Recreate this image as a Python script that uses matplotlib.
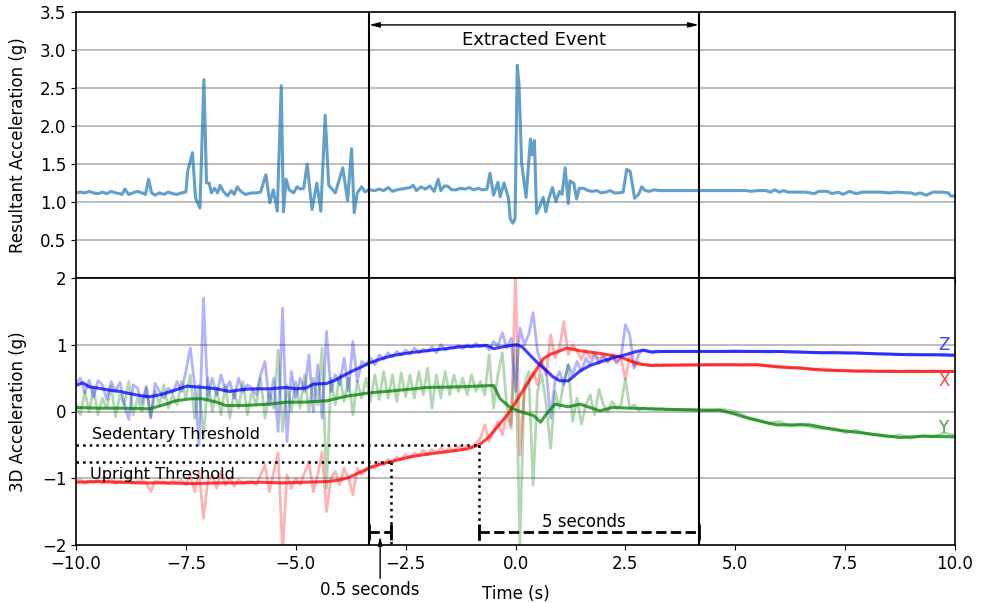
import numpy as np
import matplotlib
matplotlib.use("Agg")
import matplotlib.pyplot as plt

# ---------------- data ----------------
# Resultant acceleration (g): sample times (s) and magnitudes
res_t = [-10.0, -9.9, -9.8, -9.7, -9.6, -9.5, -9.4, -9.3, -9.2, -9.1, -9.0, -8.95, -8.89, -8.8, -8.7,
         -8.6, -8.5, -8.42, -8.35, -8.28, -8.2, -8.1, -8.0, -7.9, -7.8, -7.7, -7.6, -7.5, -7.46, -7.35,
         -7.28, -7.18, -7.09, -7.03, -6.97, -6.92, -6.85, -6.78, -6.72, -6.65, -6.55, -6.47, -6.4, -6.33,
         -6.25, -6.15, -6.0, -5.9, -5.8, -5.68, -5.59, -5.51, -5.42, -5.33, -5.28, -5.22, -5.15, -5.05,
         -4.97, -4.9, -4.82, -4.74, -4.63, -4.52, -4.43, -4.33, -4.25, -4.1, -3.93, -3.82, -3.73, -3.67,
         -3.6, -3.5, -3.42, -3.33, -3.25, -3.2, -3.1, -3.0, -2.9, -2.8, -2.7, -2.6, -2.5, -2.4, -2.33,
         -2.25, -2.15, -2.05, -1.95, -1.85, -1.76, -1.7, -1.62, -1.55, -1.45, -1.35, -1.25, -1.15, -1.05,
         -0.95, -0.85, -0.75, -0.65, -0.58, -0.5, -0.4, -0.35, -0.26, -0.16, -0.12, -0.06, -0.01, 0.04,
         0.08, 0.14, 0.24, 0.34, 0.38, 0.43, 0.48, 0.56, 0.63, 0.69, 0.76, 0.84, 0.92, 1.0, 1.06, 1.13,
         1.2, 1.24, 1.33, 1.39, 1.45, 1.55, 1.65, 1.75, 1.85, 1.95, 2.05, 2.15, 2.25, 2.35, 2.45, 2.53,
         2.61, 2.71, 2.8, 2.87, 2.95, 3.05, 3.15, 3.3, 5.26, 5.35, 5.5, 5.7, 5.8, 5.9, 6.0, 6.1, 6.2,
         6.5, 6.6, 6.8, 6.9, 7.1, 7.2, 7.35, 7.45, 7.6, 7.75, 7.9, 8.1, 8.3, 8.5, 8.7, 8.9, 9.0, 9.1,
         9.2, 9.35, 9.5, 9.7, 9.85, 9.9, 10.0]
res_v = [1.12, 1.13, 1.12, 1.14, 1.12, 1.11, 1.13, 1.11, 1.14, 1.12, 1.11, 1.10, 1.17, 1.10, 1.12,
         1.14, 1.12, 1.10, 1.30, 1.12, 1.09, 1.12, 1.10, 1.13, 1.11, 1.10, 1.12, 1.13, 1.40, 1.65,
         1.05, 0.92, 2.61, 1.25, 1.25, 1.12, 1.18, 1.12, 1.22, 1.14, 1.08, 1.15, 1.10, 1.20,
         1.14, 1.10, 1.12, 1.12, 1.13, 1.36, 0.99, 1.16, 0.88, 2.53, 0.87, 1.30, 1.16, 1.12,
         1.20, 1.17, 1.18, 1.50, 0.90, 1.25, 0.88, 2.14, 1.22, 1.12, 1.45, 1.02, 1.70, 0.86,
         1.12, 1.20, 1.13, 1.17, 1.15, 1.15, 1.17, 1.15, 1.19, 1.14, 1.16, 1.17, 1.18, 1.19, 1.22,
         1.15, 1.20, 1.17, 1.21, 1.14, 1.30, 1.15, 1.21, 1.21, 1.16, 1.16, 1.18, 1.17, 1.19,
         1.16, 1.18, 1.16, 1.17, 1.38, 1.09, 1.26, 1.07, 1.25, 1.05, 0.78, 0.72, 0.78, 2.80,
         2.54, 1.51, 1.06, 1.83, 1.62, 1.81, 0.85, 0.95, 1.06, 0.87, 1.05, 1.19, 1.00, 1.14, 1.10, 1.45,
         0.98, 1.28, 1.24, 1.04, 1.18, 1.18, 1.15, 1.14, 1.15, 1.12, 1.13, 1.15, 1.12, 1.12, 1.13, 1.43,
         1.40, 1.05, 1.10, 1.20, 1.15, 1.14, 1.16, 1.15, 1.15, 1.14, 1.15, 1.15, 1.13, 1.16, 1.13, 1.15, 1.13,
         1.13, 1.13, 1.11, 1.14, 1.14, 1.11, 1.13, 1.10, 1.14, 1.11, 1.13, 1.13, 1.13, 1.12, 1.13, 1.12, 1.12, 1.10,
         1.12, 1.09, 1.13, 1.13, 1.12, 1.08, 1.08]

# Raw 3D acceleration (g): 0.1 s samples from -10.0 to 3.4 s, then 0.25 s samples from 3.5 to 10 s
raw_x_fine = [
    -1.05, -1.02, -1.08, -1.04, -1.06, -1.03, -1.07, -1.05, -1.02, -1.08,
    -1.04, -1.06, -1.03, -1.07, -1.05, -1.03, -1.07, -1.20, -1.04, -1.06,
    -1.05, -1.08, -1.04, -1.06, -1.03, -1.10, -0.95, -1.20, -0.90, -1.60,
    -1.05, -0.95, -1.15, -0.90, -1.10, -1.00, -1.12, -1.02, -1.08, -1.05,
    -1.04, -1.10, -0.95, -0.80, -1.20, -0.90, -0.62, -2.10, -0.95, -1.15,
    -1.00, -1.10, -0.92, -0.75, -1.20, -0.95, -0.60, -1.50, -1.00, -0.90,
    -1.10, -0.85, -1.00, -1.25, -0.85, -0.95, -0.88, -0.82, -0.85, -0.76,
    -0.80, -0.72, -0.78, -0.68, -0.72, -0.64, -0.70, -0.62, -0.66, -0.58,
    -0.65, -0.57, -0.62, -0.55, -0.60, -0.54, -0.59, -0.52, -0.57, -0.50,
    -0.55, -0.48, -0.40, -0.20, -0.45, -0.30, -0.15, -0.35, -0.05, -0.25,
    2.05, -0.65, 0.30, 0.45, 0.60, 0.40, 0.75, 0.55, 1.15, 0.80,
    0.95, 1.35, 0.85, 1.00, 0.90, 0.78, 0.92, 0.80, 0.88, 0.78,
    0.85, 0.74, 0.83, 0.72, 0.80, 0.48, 0.85, 0.68, 0.74, 0.70,
    0.71, 0.69, 0.70, 0.69, 0.70]
raw_y_fine = [
    0.10, -0.05, 0.30, 0.00, 0.35, -0.05, 0.20, 0.05, 0.38, -0.08,
    0.25, 0.10, 0.45, -0.05, 0.20, 0.00, 0.35, -0.08, 0.30, 0.10,
    0.40, 0.05, 0.25, 0.10, 0.45, 0.20, 0.55, -0.10, 0.40, -0.40,
    0.50, 0.00, 0.35, -0.05, 0.40, -0.10, 0.30, 0.05, 0.45, -0.05,
    0.30, 0.10, 0.50, -0.10, 0.30, 0.05, 0.92, -0.30, 0.40, 0.00,
    0.45, 0.05, 0.55, 0.00, 0.50, 0.10, 0.95, -1.15, 0.50, 0.10,
    0.55, 0.15, 0.50, -0.05, 0.45, 0.20, 0.50, 0.15, 0.55, 0.18,
    0.60, 0.20, 0.55, 0.15, 0.58, 0.22, 0.55, 0.20, 0.60, 0.25,
    0.65, 0.05, 0.55, 0.20, 0.60, 0.25, 0.55, 0.30, 0.50, 0.25,
    0.55, 0.30, 0.45, 0.25, 0.85, 0.05, 0.55, 0.88, 0.10, -0.20,
    1.00, -1.98, 0.40, 0.60, -1.10, 0.30, 0.55, 0.10, -0.55, 0.30,
    0.05, 0.45, 0.70, -0.15, 0.20, -0.19, 0.10, 0.25, -0.05, 0.33,
    0.10, -0.01, 0.15, 0.05, 0.10, 0.49, 0.05, 0.10, 0.02, 0.06,
    0.04, 0.05, 0.03, 0.04, 0.03]
raw_z_fine = [
    0.42, 0.50, 0.28, 0.47, 0.22, 0.46, 0.40, 0.18, 0.45, 0.30,
    0.44, 0.10, -0.12, 0.40, 0.35, 0.12, 0.38, -0.10, 0.42, 0.30,
    0.20, 0.35, 0.28, 0.45, 0.30, 0.60, 0.95, 0.40, -0.50, 1.70,
    0.20, 0.50, 0.25, 0.55, 0.30, 0.45, 0.20, 0.50, 0.30, 0.40,
    0.35, 0.25, 0.55, 0.75, 0.10, 0.50, -0.30, 1.55, -0.45, 0.60,
    0.20, 0.50, 0.30, 0.85, 0.00, 0.70, -0.10, 1.20, 0.30, 0.55,
    0.40, 0.80, 0.30, 1.05, 0.45, 0.75, 0.70, 0.80, 0.70, 0.85,
    0.78, 0.88, 0.82, 0.90, 0.85, 0.92, 0.86, 0.95, 0.88, 0.93,
    0.90, 0.97, 0.88, 1.00, 0.92, 0.96, 0.95, 0.99, 0.94, 1.00,
    0.96, 1.02, 0.97, 1.00, 0.92, 1.05, 0.98, 1.18, 0.95, 1.10,
    0.30, 1.25, 1.00, 1.15, 1.48, 0.90, 0.70, 0.60, -0.10, 0.45,
    0.60, 0.40, 0.70, 0.55, 0.75, 0.60, 0.80, 0.70, 0.85, 0.72,
    0.82, 0.75, 0.85, 0.75, 0.80, 1.30, 1.15, 0.65, 0.85, 0.92,
    0.90, 0.89, 0.91, 0.90, 0.90]
raw_x_coarse = [0.70, 0.70, 0.70, 0.70, 0.70, 0.70, 0.70, 0.69, 0.70, 0.68, 0.66, 0.65, 0.66, 0.63,
                0.64, 0.62, 0.62, 0.60, 0.61, 0.60, 0.61, 0.60, 0.61, 0.60, 0.61, 0.60, 0.60]
raw_y_coarse = [0.03, 0.03, 0.03, 0.02, 0.02, 0.03, 0.00, -0.08, -0.12, -0.18, -0.15, -0.22, -0.18, -0.24,
                -0.26, -0.25, -0.32, -0.28, -0.33, -0.36, -0.38, -0.35, -0.40, -0.36, -0.38, -0.32, -0.36]
raw_z_coarse = [0.90, 0.90, 0.90, 0.90, 0.90, 0.90, 0.91, 0.90, 0.90, 0.89, 0.90, 0.89, 0.89, 0.88,
                0.88, 0.89, 0.87, 0.88, 0.87, 0.86, 0.86, 0.85, 0.86, 0.85, 0.85, 0.86, 0.85]

# Smoothed 3D acceleration (g)
sm_x_t = [-10.0, -9.5, -9.0, -8.5, -8.0, -7.33, -6.8, -6.3, -5.8, -5.3, -4.8, -4.3, -4.05, -3.84,
          -3.53, -3.31, -3.08, -2.83, -2.4, -2.02, -1.41, -1.1, -0.83, -0.65, -0.5, -0.35, -0.2,
          -0.12, 0.1, 0.25, 0.41, 0.63, 0.8, 0.94, 1.17, 1.47, 1.92, 2.38, 2.6, 2.83, 3.06, 4.5,
          5.5, 6.0, 6.47, 7.0, 7.5, 8.5, 9.0, 10.0]
sm_x = [-1.06, -1.05, -1.06, -1.07, -1.07, -1.08, -1.07, -1.07, -1.06, -1.07, -1.06, -1.05, -1.03, -1.00,
        -0.91, -0.84, -0.79, -0.75, -0.68, -0.64, -0.59, -0.56, -0.50, -0.41, -0.30, -0.18, -0.06,
        0.01, 0.24, 0.40, 0.56, 0.79, 0.86, 0.89, 0.95, 0.91, 0.87, 0.82, 0.76, 0.71, 0.69, 0.70,
        0.70, 0.67, 0.65, 0.62, 0.61, 0.60, 0.60, 0.60]
sm_y_t = [-10.0, -9.5, -9.0, -8.33, -8.0, -7.73, -7.4, -7.12, -6.8, -6.59, -6.2, -5.6, -5.2, -4.8,
          -4.3, -3.84, -3.31, -2.78, -2.02, -1.26, -0.5, -0.35, -0.12, 0.1, 0.41, 0.57, 0.7, 0.9,
          1.2, 1.47, 1.92, 2.2, 2.6, 3.06, 4.2, 4.65, 5.0, 5.34, 5.94, 6.7, 7.23, 7.99, 8.75, 9.3, 10.0]
sm_y = [0.06, 0.05, 0.05, 0.04, 0.10, 0.16, 0.19, 0.19, 0.14, 0.09, 0.09, 0.11, 0.14, 0.14,
        0.16, 0.23, 0.28, 0.31, 0.36, 0.37, 0.39, 0.19, 0.06, 0.00, -0.06, -0.16, -0.04, 0.11,
        0.07, 0.11, 0.01, 0.06, 0.05, 0.04, 0.02, 0.02, -0.04, -0.11, -0.20, -0.20, -0.27, -0.33, -0.39, -0.37, -0.38]
sm_z_t = [-10.0, -9.85, -9.7, -9.5, -9.24, -9.0, -8.79, -8.55, -8.33, -8.1, -7.88, -7.7, -7.48, -7.3,
          -7.1, -6.8, -6.51, -6.2, -5.9, -5.6, -5.22, -5.0, -4.77, -4.6, -4.3, -4.1, -3.91, -3.7,
          -3.53, -3.31, -3.05, -2.78, -2.4, -2.02, -1.6, -1.26, -0.9, -0.65, -0.5, -0.35, -0.2,
          0.03, 0.15, 0.25, 0.41, 0.55, 0.71, 0.85, 1.01, 1.2, 1.35, 1.47, 1.7, 1.92, 2.2, 2.45,
          2.7, 2.91, 3.1, 3.37, 4.5, 6.0, 6.5, 7.0, 7.5, 8.0, 8.5, 9.0, 9.5, 10.0]
sm_z = [0.39, 0.43, 0.37, 0.35, 0.32, 0.30, 0.27, 0.24, 0.22, 0.25, 0.29, 0.33, 0.38, 0.37,
        0.36, 0.34, 0.30, 0.33, 0.34, 0.34, 0.36, 0.34, 0.35, 0.41, 0.42, 0.47, 0.54, 0.61,
        0.66, 0.73, 0.79, 0.84, 0.88, 0.91, 0.94, 0.97, 0.98, 0.99, 0.94, 0.96, 0.98,
        1.00, 0.97, 0.90, 0.79, 0.70, 0.61, 0.52, 0.46, 0.46, 0.54, 0.61, 0.69, 0.74, 0.80, 0.84,
        0.89, 0.92, 0.89, 0.90, 0.90, 0.90, 0.89, 0.88, 0.88, 0.87, 0.86, 0.85, 0.85, 0.84]

# Event markers (s) and thresholds (g)
event_start, event_end = -3.33, 4.17
upright_cross, sedentary_cross = -2.83, -0.83
upright_thr, sedentary_thr = -0.75, -0.5

# ---------------- assemble sample times ----------------
t_fine = np.round(-10.0 + 0.1 * np.arange(len(raw_x_fine)), 2)
t_coarse = np.round(3.5 + 0.25 * np.arange(len(raw_x_coarse)), 2)
raw_t = np.concatenate([t_fine, t_coarse])
raw_x = np.array(raw_x_fine + raw_x_coarse)
raw_y = np.array(raw_y_fine + raw_y_coarse)
raw_z = np.array(raw_z_fine + raw_z_coarse)

# ---------------- figure ----------------
fig = plt.figure(figsize=(9.81, 6.03), dpi=100)
left, right = 76 / 981, 955 / 981
y_top, y_mid, y_bot = 1 - 12 / 603, 1 - 278 / 603, 1 - 545 / 603
ax1 = fig.add_axes([left, y_mid, right - left, y_top - y_mid])
ax2 = fig.add_axes([left, y_bot, right - left, y_mid - y_bot], sharex=ax1)

fs = 12
grid_kw = dict(color="#b0b0b0", lw=1.2)

# Top panel: resultant acceleration
ax1.plot(res_t, res_v, color="#1f77b4", alpha=0.7, lw=2.2)
ax1.set_ylim(0, 3.5)
ax1.set_yticks([0.5, 1.0, 1.5, 2.0, 2.5, 3.0, 3.5])
for yv in [0.5, 1.0, 1.5, 2.0, 2.5, 3.0]:
    ax1.axhline(yv, zorder=0, **grid_kw)
ax1.set_ylabel("Resultant Acceleration (g)", fontsize=fs)
ax1.yaxis.set_label_coords(-0.056, 0.5)
ax1.tick_params(labelbottom=False, labelsize=fs)
ax1.axvline(event_start, color="black", lw=1.5)
ax1.axvline(event_end, color="black", lw=1.5)
ax1.annotate("", xy=(event_start, 3.33), xytext=(event_end, 3.33),
             arrowprops=dict(arrowstyle="<|-|>,head_length=0.6,head_width=0.15",
                             color="black", lw=1.0, shrinkA=0, shrinkB=0))
ax1.text((event_start + event_end) / 2, 3.13, "Extracted Event", ha="center", va="center", fontsize=13)

# Bottom panel: 3D acceleration
ax2.plot(raw_t, raw_x, color="red", alpha=0.3, lw=2)
ax2.plot(raw_t, raw_y, color="green", alpha=0.3, lw=2)
ax2.plot(raw_t, raw_z, color="blue", alpha=0.3, lw=2)
ax2.plot(sm_x_t, sm_x, color="red", alpha=0.75, lw=2.2)
ax2.plot(sm_y_t, sm_y, color="green", alpha=0.75, lw=2.2)
ax2.plot(sm_z_t, sm_z, color="blue", alpha=0.75, lw=2.2)
for yv in [-1, 0, 1]:
    ax2.axhline(yv, zorder=0, **grid_kw)
ax2.set_ylim(-2, 2)
ax2.set_yticks([-2, -1, 0, 1, 2])
ax2.set_xlim(-10, 10)
ax2.set_xticks([-10, -7.5, -5, -2.5, 0, 2.5, 5, 7.5, 10])
ax2.set_xticklabels(["\u221210.0", "\u22127.5", "\u22125.0", "\u22122.5", "0.0", "2.5", "5.0", "7.5", "10.0"])
ax2.tick_params(labelsize=fs)
ax2.set_ylabel("3D Acceleration (g)", fontsize=fs)
ax2.yaxis.set_label_coords(-0.056, 0.5)
ax2.set_xlabel("Time (s)", fontsize=fs, labelpad=9)
ax2.axvline(event_start, color="black", lw=1.5)
ax2.axvline(event_end, color="black", lw=1.5)

ax2.text(9.62, 0.99, "Z", color=(0.25, 0.25, 1.0), fontsize=fs, ha="left", va="center")
ax2.text(9.62, 0.45, "X", color=(1.0, 0.25, 0.25), fontsize=fs, ha="left", va="center")
ax2.text(9.62, -0.25, "Y", color=(0.25, 0.63, 0.25), fontsize=fs, ha="left", va="center")

# Threshold guides
ax2.plot([-10, sedentary_cross], [sedentary_thr, sedentary_thr], ls=":", color="black", lw=1.8)
ax2.plot([sedentary_cross, sedentary_cross], [sedentary_thr, -2], ls=":", color="black", lw=1.8)
ax2.plot([-10, upright_cross], [upright_thr, upright_thr], ls=":", color="black", lw=1.8)
ax2.plot([upright_cross, upright_cross], [upright_thr, -2], ls=":", color="black", lw=1.8)
ax2.text(-9.64, -0.34, "Sedentary Threshold", fontsize=11.6, ha="left", va="center")
ax2.text(-9.68, -0.94, "Upright Threshold", fontsize=11.6, ha="left", va="center")

# Duration brackets
yb = -1.81
for a, b in [(event_start, upright_cross), (sedentary_cross, event_end)]:
    ax2.plot([a, b], [yb, yb], ls="--", color="black", lw=2)
    ax2.vlines([a, b], yb - 0.12, yb + 0.12, color="black", lw=2)
ax2.text(1.55, -1.65, "5 seconds", fontsize=fs, ha="center", va="center")
ax2.annotate("", xy=(-3.08, -1.87), xytext=(-3.08, -2.5), annotation_clip=False,
             arrowprops=dict(arrowstyle="-|>,head_length=0.5,head_width=0.12",
                             color="black", lw=1.0, shrinkA=0, shrinkB=0))
ax2.text(-3.31, -2.68, "0.5 seconds", fontsize=fs, ha="center", va="center")

for ax in (ax1, ax2):
    for s in ax.spines.values():
        s.set_linewidth(1.2)

fig.savefig("out.png", dpi=100)
